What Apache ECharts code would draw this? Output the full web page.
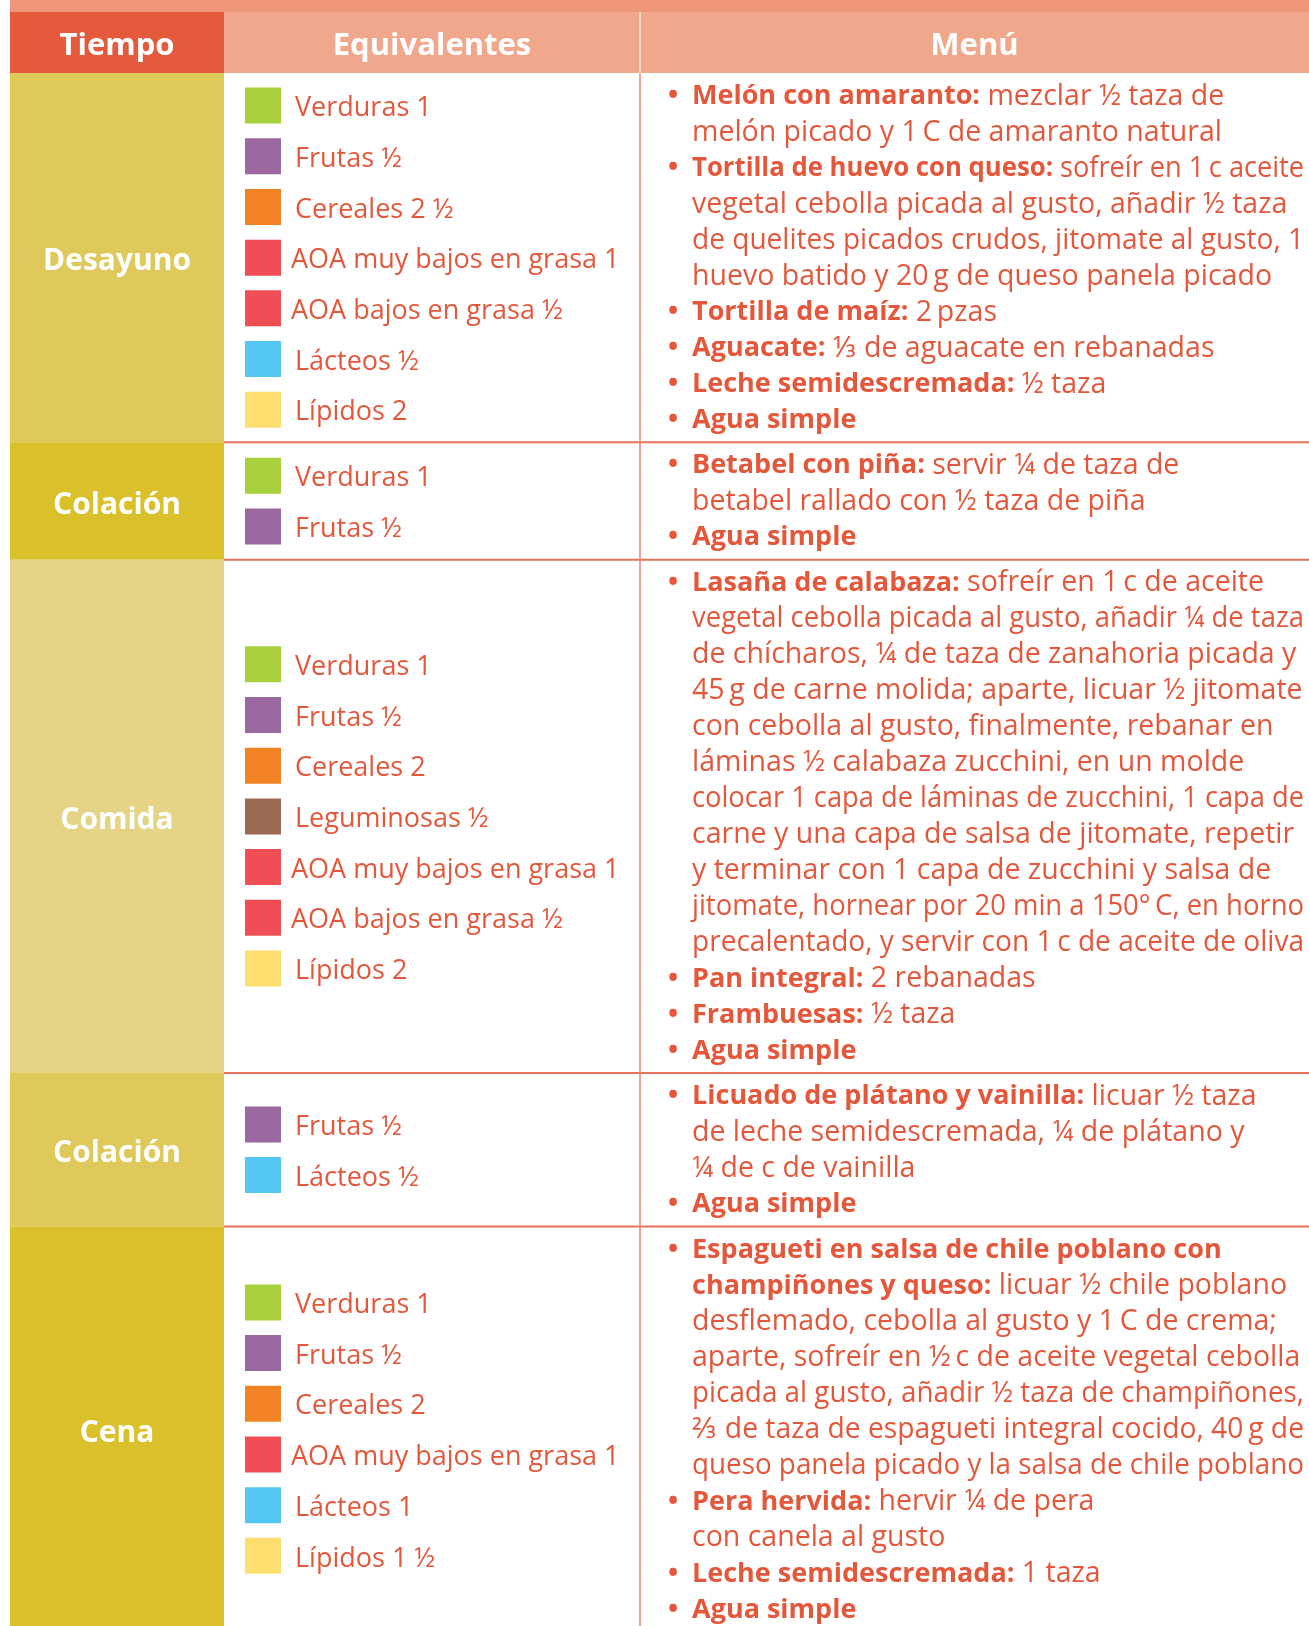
<!DOCTYPE html>
<html><head><meta charset="utf-8">
<script src="https://cdn.jsdelivr.net/npm/echarts@6/dist/echarts.min.js"></script>
<style>html,body{margin:0;padding:0;background:#fff}#c{width:1309px;height:1626px}</style>
</head><body><div id="c"></div><script>
// ---------------- DATA ----------------
const headers = ['Tiempo', 'Equivalentes', 'Menú'];
const tiempos = ['Desayuno', 'Colación', 'Comida', 'Colación', 'Cena'];

const equivDesayuno = [['Verduras', '1'], ['Frutas', '½'], ['Cereales', '2 ½'], ['AOA muy bajos en grasa', '1'], ['AOA bajos en grasa', '½'], ['Lácteos', '½'], ['Lípidos', '2']];
const equivColacion1 = [['Verduras', '1'], ['Frutas', '½']];
const equivComida = [['Verduras', '1'], ['Frutas', '½'], ['Cereales', '2'], ['Leguminosas', '½'], ['AOA muy bajos en grasa', '1'], ['AOA bajos en grasa', '½'], ['Lípidos', '2']];
const equivColacion2 = [['Frutas', '½'], ['Lácteos', '½']];
const equivCena = [['Verduras', '1'], ['Frutas', '½'], ['Cereales', '2'], ['AOA muy bajos en grasa', '1'], ['Lácteos', '1'], ['Lípidos', '1 ½']];

const menuDesayuno = [
  '• **Melón con amaranto:** mezclar ½ taza de',
  'melón picado y 1\u2009C de amaranto natural',
  '• **Tortilla de huevo con queso:** sofreír en 1\u2009c aceite',
  'vegetal cebolla picada al gusto, añadir ½ taza',
  'de quelites picados crudos, jitomate al gusto, 1',
  'huevo batido y 20\u2009g de queso panela picado',
  '• **Tortilla de maíz:** 2\u2009pzas',
  '• **Aguacate:** ⅓ de aguacate en rebanadas',
  '• **Leche semidescremada:** ½ taza',
  '• **Agua simple**'
];
const menuColacion1 = [
  '• **Betabel con piña:** servir ¼ de taza de',
  'betabel rallado con ½ taza de piña',
  '• **Agua simple**'
];
const menuComida = [
  '• **Lasaña de calabaza:** sofreír en 1\u2009c de aceite',
  'vegetal cebolla picada al gusto, añadir ¼ de taza',
  'de chícharos, ¼ de taza de zanahoria picada y',
  '45\u2009g de carne molida; aparte, licuar ½ jitomate',
  'con cebolla al gusto, finalmente, rebanar en',
  'láminas ½ calabaza zucchini, en un molde',
  'colocar 1 capa de láminas de zucchini, 1 capa de',
  'carne y una capa de salsa de jitomate, repetir',
  'y terminar con 1 capa de zucchini y salsa de',
  'jitomate, hornear por 20 min a 150°\u2009C, en horno',
  'precalentado, y servir con 1\u2009c de aceite de oliva',
  '• **Pan integral:** 2 rebanadas',
  '• **Frambuesas:** ½ taza',
  '• **Agua simple**'
];
const menuColacion2 = [
  '• **Licuado de plátano y vainilla:** licuar ½ taza',
  'de leche semidescremada, ¼ de plátano y',
  '¼ de c de vainilla',
  '• **Agua simple**'
];
const menuCena = [
  '• **Espagueti en salsa de chile poblano con**',
  '**champiñones y queso:** licuar ½ chile poblano',
  'desflemado, cebolla al gusto y 1\u2009C de crema;',
  'aparte, sofreír en ½\u2009c de aceite vegetal cebolla',
  'picada al gusto, añadir ½ taza de champiñones,',
  '⅔ de taza de espagueti integral cocido, 40\u2009g de',
  'queso panela picado y la salsa de chile poblano',
  '• **Pera hervida:** hervir ¼ de pera',
  'con canela al gusto',
  '• **Leche semidescremada:** 1 taza',
  '• **Agua simple**'
];

const equivalentes = [equivDesayuno, equivColacion1, equivComida, equivColacion2, equivCena];
const menus = [menuDesayuno, menuColacion1, menuComida, menuColacion2, menuCena];

// ---------------- STYLES ----------------
const TEXT = '#E5573B';
const FONT = '"Open Sans", "Noto Sans", sans-serif';
const grupoColor = {
  'Verduras': '#A8CF3C', 'Frutas': '#9B68A0', 'Cereales': '#F28325', 'Leguminosas': '#9A6A55',
  'AOA muy bajos en grasa': '#EF4E55', 'AOA bajos en grasa': '#EF4E55', 'Lácteos': '#54C8F3', 'Lípidos': '#FEDE6F'
};
const tiempoColor = ['#E0C95B', '#DAC02A', '#E5D485', '#E0C95B', '#DAC02A'];
const headerColor = ['#E55A3C', '#F0A78B', '#F0A78B'];
const BOLD_SIZE = 27, REG_SIZE = 28.5;

// ---------------- LAYOUT (axis units: x = px, y = text lines of 36px) ----------------
const PX_PER_LINE = 36;
const Y_MAX = 1626 / PX_PER_LINE;
const STRIP_END = 12 / PX_PER_LINE;
const HEADER_END = 73 / PX_PER_LINE;
const ROW_PAD = 0.26;
const FIRST_LINE = 0.595;
const ITEM_STEP = 1.408;
const COL = [0, 214, 630, 1299];
const MENU_X = 682, MENU_MAX_W = 612;

const rowData = [];
let acc = HEADER_END;
menus.forEach((m, i) => {
  const start = acc, end = acc + m.length + ROW_PAD;
  rowData.push([i, start, end]);
  acc = end;
});

const mctx = document.createElement('canvas').getContext('2d');
function measure(txt, weight, size) {
  mctx.font = weight + ' ' + size + 'px ' + FONT;
  return mctx.measureText(txt).width;
}

function toRich(line) {
  let s = line, bullet = false;
  if (s.startsWith('• ')) { bullet = true; s = s.slice(2); }
  const parts = s.split('**');
  let out = '', w = 0;
  parts.forEach((p, k) => {
    if (!p.length) return;
    const bold = k % 2 === 1;
    out += '{' + (bold ? 'b' : 'r') + '|' + p + '}';
    w += measure(p, bold ? 'bold' : 'normal', bold ? BOLD_SIZE : REG_SIZE);
  });
  return { bullet, text: out, width: w };
}

const richStyles = {
  b: { fontFamily: FONT, fontWeight: 'bold', fontSize: BOLD_SIZE, fill: TEXT, color: TEXT },
  r: { fontFamily: FONT, fontWeight: 'normal', fontSize: REG_SIZE, fill: TEXT, color: TEXT }
};

function renderHeader(params, api) {
  const P = (x, y) => api.coord([x, y]);
  const ch = [];
  const a = P(COL[0], 0), b = P(COL[3], STRIP_END);
  ch.push({ type: 'rect', shape: { x: a[0], y: a[1], width: b[0] - a[0], height: b[1] - a[1] }, style: { fill: '#EE967A' } });
  for (let c = 0; c < 3; c++) {
    const p = P(COL[c], STRIP_END), q = P(COL[c + 1], HEADER_END);
    ch.push({ type: 'rect', shape: { x: p[0], y: p[1], width: q[0] - p[0], height: q[1] - p[1] }, style: { fill: headerColor[c] } });
    const m = P((COL[c] + COL[c + 1]) / 2, (STRIP_END + HEADER_END) / 2);
    ch.push({ type: 'text', x: m[0], y: m[1] + 4, style: { text: headers[c], fill: '#fff', fontFamily: FONT, fontWeight: 'bold', fontSize: 31, align: 'center', verticalAlign: 'middle' } });
  }
  const v1 = P(COL[2], STRIP_END), v2 = P(COL[2], HEADER_END);
  ch.push({ type: 'line', shape: { x1: v1[0], y1: v1[1], x2: v2[0], y2: v2[1] }, style: { stroke: '#FBE3D9', lineWidth: 1.5 } });
  return { type: 'group', children: ch };
}

function renderRow(params, api) {
  const i = api.value(0), s = api.value(1), e = api.value(2);
  const P = (x, y) => api.coord([x, y]);
  const ch = [];
  const a = P(COL[0], s), b = P(COL[1], e);
  ch.push({ type: 'rect', shape: { x: a[0], y: a[1], width: b[0] - a[0], height: b[1] - a[1] }, style: { fill: tiempoColor[i] } });
  const lc = P((COL[0] + COL[1]) / 2, (s + e) / 2);
  ch.push({ type: 'text', x: lc[0], y: lc[1] + 4, style: { text: tiempos[i], fill: '#fff', fontFamily: FONT, fontWeight: 'bold', fontSize: 30, align: 'center', verticalAlign: 'middle' } });
  // separators
  const l1 = P(COL[1], e), l2 = P(COL[3], e);
  ch.push({ type: 'line', shape: { x1: l1[0], y1: l1[1], x2: l2[0], y2: l2[1] }, style: { stroke: '#E8735C', lineWidth: 2 } });
  const v1 = P(COL[2], s), v2 = P(COL[2], e);
  ch.push({ type: 'line', shape: { x1: v1[0], y1: v1[1], x2: v2[0], y2: v2[1] }, style: { stroke: '#EE8570', lineWidth: 1.5 } });
  // equivalentes
  const items = equivalentes[i], n = items.length, mid = (s + e) / 2;
  items.forEach((it, k) => {
    const yc = mid + (k - (n - 1) / 2) * ITEM_STEP;
    const q0 = P(235, yc - 0.5), q1 = P(271, yc + 0.5);
    ch.push({ type: 'rect', shape: { x: q0[0], y: q0[1], width: q1[0] - q0[0], height: q1[1] - q0[1] }, style: { fill: grupoColor[it[0]] } });
    const t = P(it[0].length > 15 ? 281 : 285, yc);
    ch.push({ type: 'text', x: t[0], y: t[1] + 3, style: { text: it[0] + ' ' + it[1], fill: TEXT, fontFamily: FONT, fontSize: 27, align: 'left', verticalAlign: 'middle' } });
  });
  // menu
  menus[i].forEach((line, j) => {
    const r = toRich(line);
    const yc = s + FIRST_LINE + j;
    if (r.bullet) {
      const bp = P(663, yc);
      ch.push({ type: 'text', x: bp[0], y: bp[1] + 2, style: { text: '•', fill: TEXT, fontFamily: FONT, fontWeight: 'bold', fontSize: 27, align: 'center', verticalAlign: 'middle' } });
    }
    const tp = P(MENU_X, yc);
    const sx = r.width > MENU_MAX_W ? MENU_MAX_W / r.width : 1;
    ch.push({ type: 'text', x: tp[0], y: tp[1] + 2, scaleX: sx, style: { text: r.text, rich: richStyles, fill: TEXT, fontFamily: FONT, fontSize: REG_SIZE, align: 'left', verticalAlign: 'middle' } });
  });
  return { type: 'group', children: ch };
}

const chart = echarts.init(document.getElementById('c'), null, { renderer: 'canvas' });
chart.setOption({
  animation: false,
  grid: { left: 10, right: 0, top: 0, bottom: 0 },
  xAxis: { type: 'value', min: 0, max: COL[3], show: false },
  yAxis: { type: 'value', min: 0, max: Y_MAX, inverse: true, show: false },
  series: [
    { type: 'custom', silent: true, renderItem: renderRow, data: rowData, clip: true },
    { type: 'custom', silent: true, renderItem: renderHeader, data: [[0]] }
  ]
});
</script></body></html>
